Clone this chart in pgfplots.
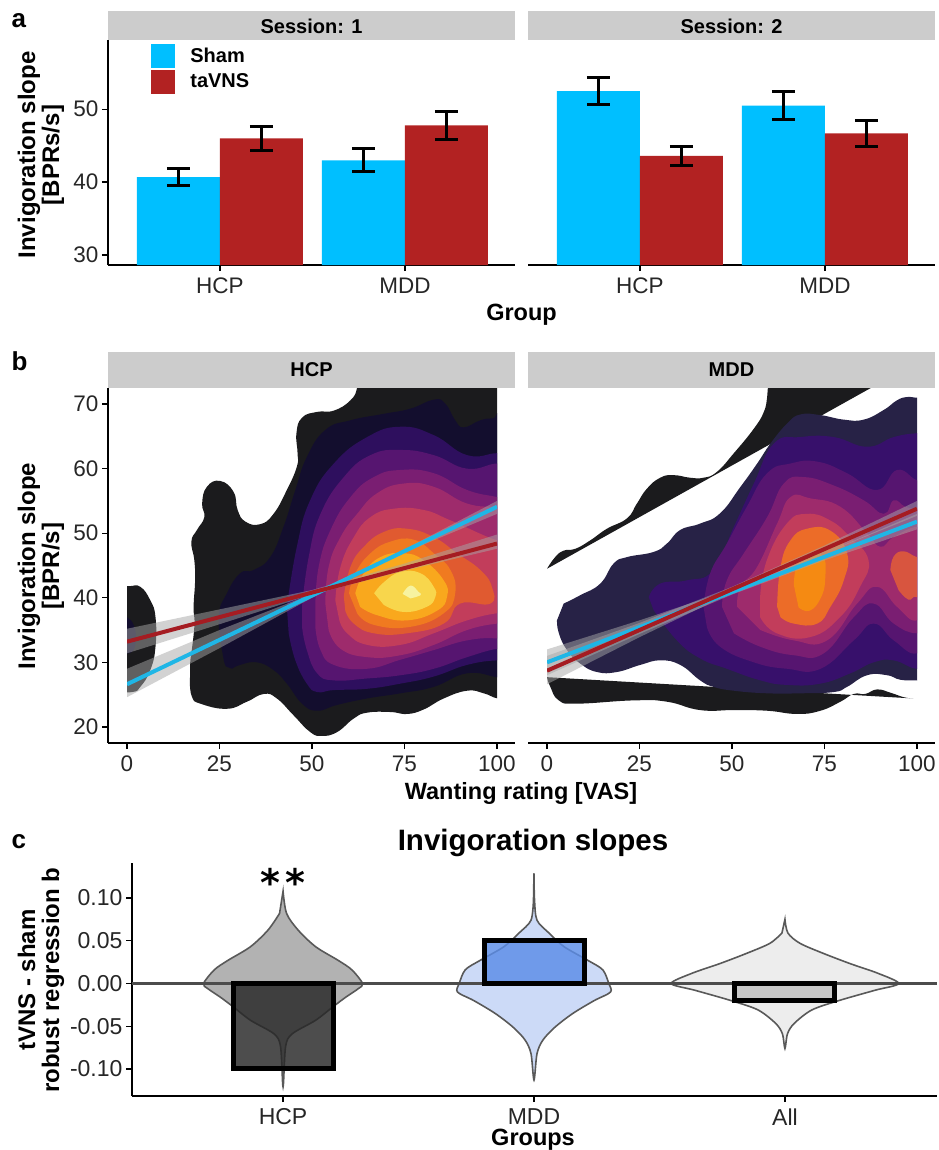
\documentclass[border=0pt]{standalone}
\usepackage{fontspec}
\setmainfont{Liberation Sans}
\newfontfamily\dejavu{DejaVu Sans}
\usepackage{pgfplots}
\pgfplotsset{compat=1.18}
\definecolor{sham}{HTML}{00BFFF}
\definecolor{tavns}{HTML}{B22222}
\definecolor{lnblue}{HTML}{1FB6E6}
\definecolor{lnred}{HTML}{A51C22}
\definecolor{strip}{HTML}{CCCCCC}
\definecolor{k0}{HTML}{1B1B1D}
\definecolor{k1}{HTML}{130E2E}
\definecolor{k2}{HTML}{2E0F5E}
\definecolor{k3}{HTML}{561570}
\definecolor{k4}{HTML}{7A1E72}
\definecolor{k5}{HTML}{9E2B6C}
\definecolor{k6}{HTML}{C23D5B}
\definecolor{k7}{HTML}{E05A30}
\definecolor{k8}{HTML}{F07A20}
\definecolor{k9}{HTML}{F9A81D}
\definecolor{k10}{HTML}{F8D64C}
\definecolor{k11}{HTML}{F7F3A0}
\definecolor{m1}{HTML}{272246}
\definecolor{m2}{HTML}{37106B}
\definecolor{m7}{HTML}{EC6C28}
\definecolor{m8}{HTML}{F58A12}
\definecolor{mi}{HTML}{D8553F}
\definecolor{vmdd}{HTML}{CCDAF7}
\definecolor{bmdd}{HTML}{5B8DE8}
\newcommand{\fs}[1]{\fontsize{#1}{#1}\selectfont}
\pgfplotsset{
  panel/.style={
    scale only axis,
    axis x line=bottom, axis y line=left,
    axis line style={-, line width=2pt, black},
    tick style={black, line width=1.4pt},
    tick align=outside, major tick length=6pt,
    ticklabel style={font=\fs{22.5}, text=black!85},
    xticklabel style={yshift=-3pt},
    scaled ticks=false,
    /pgf/number format/assume math mode=true,
  },
  rightpanel/.style={panel, axis y line=none},
  dens/.style={draw=none, smooth, tension=0.8},
  rib/.style={draw=none, fill=gray!70, fill opacity=0.5},
  fit/.style={line width=4pt},
  violin/.style={smooth, tension=0.5, line width=1.6pt, draw=black!65},
  cbar/.style={ybar, bar shift=0pt, bar width=100pt, draw=black, line width=5pt, fill opacity=0.82},
  gbar/.style={ybar, bar shift=0pt, bar width=83pt, draw=none,
    error bars/.cd, y dir=both, y explicit,
    error bar style={line width=3pt, black},
    error mark options={rotate=90, mark size=11.5pt, line width=3pt, black}},
}
\begin{document}
\begin{tikzpicture}[x=1pt,y=1pt]
\path[use as bounding box] (0,0) rectangle (938,-1150);

% strips
\fill[strip] (108,-11) rectangle (515,-40);
\fill[strip] (528,-11) rectangle (935,-40);
\fill[strip] (108,-352) rectangle (515,-388);
\fill[strip] (528,-352) rectangle (935,-388);
\node[font=\bfseries\fs{20}] at (311.5,-26) {Session: 1};
\node[font=\bfseries\fs{20}] at (731.5,-26) {Session: 2};
\node[font=\bfseries\fs{20}] at (311.5,-370) {HCP};
\node[font=\bfseries\fs{20}] at (731.5,-370) {MDD};
\node[font=\bfseries\fs{26},anchor=base west] at (8,-28) {a};
\node[font=\bfseries\fs{26},anchor=base west] at (8,-370) {b};
\node[font=\bfseries\fs{26},anchor=base west] at (8,-848) {c};

% panel a
\begin{axis}[panel, at={(108pt,-265pt)}, anchor=south west, width=407pt, height=225pt,
  xmin=0.395, xmax=2.595, ymin=28.63, ymax=59.5,
  xtick={1,2}, xticklabels={HCP,MDD}, ytick={30,40,50},
  legend style={at={(0.106,0.985)}, anchor=north west, draw=none, fill=none,
    font=\bfseries\fs{20}, row sep=2pt, inner sep=0pt},
  legend cell align=left,
  legend image code/.code={\fill[#1] (0pt,-12pt) rectangle (24pt,12pt); \path (37pt,0pt);},
  ]
\addplot[fill=sham, gbar]
  coordinates {(0.7757,40.7) +- (0,1.2) (1.7757,43.0) +- (0,1.6)};
\addlegendentry{Sham}
\addplot[fill=tavns, gbar]
  coordinates {(1.2243,46.0) +- (0,1.6) (2.2243,47.8) +- (0,1.9)};
\addlegendentry{taVNS}
\end{axis}
\begin{axis}[rightpanel, at={(528pt,-265pt)}, anchor=south west, width=407pt, height=225pt,
  xmin=0.395, xmax=2.595, ymin=28.63, ymax=59.5,
  xtick={1,2}, xticklabels={HCP,MDD}]
\addplot[fill=sham, gbar]
  coordinates {(0.7757,52.5) +- (0,1.9) (1.7757,50.5) +- (0,1.9)};
\addplot[fill=tavns, gbar]
  coordinates {(1.2243,43.6) +- (0,1.3) (2.2243,46.7) +- (0,1.8)};
\end{axis}
\node[font=\bfseries\fs{23.5}] at (521.5,-315) {Group};
\node[font=\bfseries\fs{24},rotate=90,align=center] at (41,-155) {Invigoration slope\\{}[BPRs/s]};

% panel b frames
\begin{axis}[panel, at={(108pt,-743pt)}, anchor=south west, width=407pt, height=355pt,
  xmin=-5.1, xmax=104.9, ymin=17.5, ymax=72.5,
  xtick={0,25,50,75,100}, ytick={20,30,40,50,60,70}]
\end{axis}
\begin{axis}[rightpanel, at={(528pt,-743pt)}, anchor=south west, width=407pt, height=355pt,
  xmin=-5.1, xmax=104.9, ymin=17.5, ymax=72.5,
  xtick={0,25,50,75,100}]
\end{axis}
\node[font=\bfseries\fs{23.5}] at (521,-793) {Wanting rating [VAS]};
\node[font=\bfseries\fs{24},rotate=90,align=center] at (41,-566) {Invigoration slope\\{}[BPR/s]};

% HCP density, clipped to the 0-100 range
\begin{axis}[hide axis, scale only axis, at={(127pt,-743pt)}, anchor=south west, width=370pt, height=355pt,
  xmin=0, xmax=100, ymin=17.5, ymax=72.5]
\addplot[dens, fill=k0] coordinates {(17,26.7)(17.6,24.6)(19.8,23.6)(27,22.8)(32.4,23.9)(37,25.1)(40.5,24.4)(45,21.8)(49.5,19.2)(52.7,18.6)(56.8,19.2)(61.3,21.3)(64.9,22.2)(71.2,22.3)(75.7,22)(80.2,22.7)(85.6,24.4)(91.9,25.6)(96.4,25.2)(100.2,24.4)(104,24.4)(104,75)(62.2,75)(62.2,72.6)(60.4,70.6)(55.9,69)(51.4,68.8)(47.3,67.9)(45.8,65.5)(46.1,62.4)(45.9,60.3)(43.2,56.7)(39.6,53)(36,51.4)(32,51.8)(29.9,53.6)(28.8,56.4)(25.2,58.1)(21.6,57.2)(20.3,54.6)(20.9,52.5)(18.9,50.5)(17.4,48.7)(18.2,45.8)(18.4,42.7)(18,38.6)(18.2,35.5)(17.1,30.3)} -- cycle;
\addplot[dens, fill=k0] coordinates {(-4,41.8)(0.5,41.8)(3.6,41.7)(6.3,39.6)(7.7,37)(7.7,32.4)(6.3,28.8)(3.6,26.2)(1.4,25.4)(-4,25.4)} -- cycle;
\addplot[dens, fill=k1] coordinates {(-2,37)(0,37)(2,35.5)(2.3,33)(1,31.5)(-2,31.5)} -- cycle;
\addplot[dens, fill=k1] coordinates {(27,29.3)(26,30.8)(24.8,37)(27,40.7)(30.6,43.8)(34.2,44.3)(38.7,46.3)(42.3,51)(45.5,56.7)(48.6,61.8)(53.6,66)(60.4,67.5)(69.4,68.5)(76.6,69.3)(82.9,70.7)(86,70.1)(88.7,67.5)(91,66.4)(95.5,67.5)(99,67.8)(104,67.8)(104,27.5)(100,27.7)(91.9,28.3)(82.9,26.2)(73.9,25.2)(64.9,24.4)(56.8,23.4)(51.4,22.5)(47.3,23.6)(43.2,26.7)(39.6,28.8)(35.1,30)(30.6,29.6)(28.4,29)} -- cycle;
\addplot[dens, fill=k2] coordinates {(43.2,38.6)(45.9,47.9)(49.5,55.1)(55.9,60.8)(64.9,64.9)(73.9,66.5)(82.9,65.2)(91.9,62.1)(100,62.4)(104,62)(104,30)(100,30.3)(91.9,29.6)(82.9,27.8)(73.9,26.7)(64.9,25.9)(55.9,25.7)(51.4,25.4)(48.6,26.7)(45.5,30.3)(43.7,34.5)} -- cycle;
\addplot[dens, fill=k3] coordinates {(47.3,38.6)(49.1,46.3)(52.3,53)(58.6,58.7)(65.8,62.1)(73.9,62.9)(82.9,62.1)(91.9,60)(100,60.8)(104,60)(104,32)(100,32.1)(91.9,30.8)(82.9,29)(73.9,28)(64.9,27.5)(55.9,27.2)(51.4,28.3)(48.6,31.9)(47.3,35.5)} -- cycle;
\addplot[dens, fill=k4] coordinates {(50.9,38.6)(51.8,44.8)(55,50.5)(60.4,55.6)(66.7,58.7)(73.9,59.8)(82.9,59.3)(91.9,56.7)(100,55.6)(104,55)(104,33)(100,33.7)(91.9,33.4)(82.9,31.9)(73.9,30.4)(64.9,29)(55.9,29.6)(52.3,31.9)(50.9,35.5)} -- cycle;
\addplot[dens, fill=k5] coordinates {(53.6,39.1)(54.5,44.8)(57.7,49.4)(62.2,53)(67.6,56.2)(74.8,57.7)(82.9,57.2)(91.9,54.6)(100,54.1)(104,54)(104,36)(100,36)(91.9,35)(82.9,32.7)(73.9,31.1)(64.9,30.8)(57.7,32.1)(54.5,35)} -- cycle;
\addplot[dens, fill=k6] coordinates {(56.3,39.6)(57.7,44.8)(61.3,49.4)(65.8,52.5)(72.1,53.8)(80.2,53.6)(87.4,52)(100,48.9)(104,49)(104,37.5)(100,37.6)(91.9,36.5)(82.9,34.5)(73.9,32.7)(64.9,32.7)(59.5,34.5)(57.4,36.5)} -- cycle;
\addplot[dens, fill=k7] coordinates {(58.6,40.2)(60.4,44.8)(64,47.9)(69.4,50.2)(75.7,50.7)(82.9,49.4)(89.2,46.9)(95.5,44.3)(98.6,41.7)(98.2,39.1)(90,39.1)(85.6,36)(75.7,34.5)(66.7,34.5)(61.3,36)(59,38)} -- cycle;
\addplot[dens, fill=k8] coordinates {(60,40.7)(61.7,43.8)(65.8,46.9)(71.2,48.7)(77.5,49)(82.9,46.9)(87.4,44.3)(88.7,40.7)(85.6,37.6)(76.6,35.5)(66.7,35.8)(62.2,37.6)} -- cycle;
\addplot[dens, fill=k9] coordinates {(61.7,40.7)(64,43.8)(68.5,46.3)(74.8,46.9)(80.2,45.8)(85.6,42.7)(86.5,40.2)(83.8,38)(75.7,36.5)(67.6,37.3)(63,38.6)} -- cycle;
\addplot[dens, fill=k10] coordinates {(66.8,40.7)(69.4,42.4)(73.9,44)(79.3,43.8)(82.9,41.7)(83.3,40.1)(81,38.6)(74.8,37.8)(69.4,38.9)} -- cycle;
\addplot[dens, fill=k11] coordinates {(74.5,40.6)(76.6,41.9)(78.8,40.9)(79.3,40.4)(76.6,39.9)} -- cycle;
% regression ribbons and lines
\addplot[rib] coordinates {(0,29)(25,35)(50,40.6)(60,43.4)(75,47.5)(100,55)(100,53)(75,47)(60,42.9)(50,40)(25,32.2)(0,24.6)} -- cycle;
\addplot[rib] coordinates {(0,35.2)(25,38.2)(50,41.2)(75,45.3)(100,49.8)(100,47.6)(75,44.2)(50,40.5)(25,35.9)(0,31.4)} -- cycle;
\addplot[fit, lnblue] coordinates {(0,26.6)(100,54.1)};
\addplot[fit, lnred] coordinates {(0,33.2)(50,40.8)(100,48.4)};
\end{axis}

% MDD density
\begin{axis}[hide axis, scale only axis, at={(547pt,-743pt)}, anchor=south west, width=370pt, height=355pt,
  xmin=0, xmax=100, ymin=17.5, ymax=72.5]
\addplot[dens, fill=k0] coordinates {(0,44.5)(2.2,46.3)(4.5,47.3)(7.7,47.6)(11.7,48.9)(16.2,50.7)(21.6,52.3)(24.3,54.6)(27,56.9)(30.6,58.6)(34.2,59)(38.7,58.6)(42.3,58.6)(45.9,59.5)(50.5,62.4)(55.9,66.2)(58.6,68.8)(59.5,71.1)(59.7,72.6)(60,75)(70,78)(95,78)(95,74.9)} -- cycle;
\addplot[dens, fill=k0] coordinates {(0,27.7)(0.9,26.2)(3.2,24.1)(8.1,23.6)(23.4,24.1)(32.4,23.9)(41.4,22.6)(50.5,22.6)(59.5,22.5)(67.6,22)(73.9,22.5)(79.3,23.9)(82.9,25.1)(86,25.1)(89.2,25.8)(92.8,25.3)(96.4,24.6)(99,24.4)} -- cycle;
\addplot[dens, fill=m1] coordinates {(2.7,36.5)(3.2,34.5)(5.4,31.9)(9,29.8)(13.5,28.5)(18.9,28.5)(25.2,29.6)(30.6,30.3)(36,29.6)(41.4,27.2)(45,26.2)(50.5,25.6)(59.5,25.2)(68.5,25.2)(77.5,25.4)(81.1,26.2)(86.5,28)(91.9,28)(95.5,27.3)(100,27.2)(104,27.2)(104,71)(100,71)(97.3,71.1)(94.6,70.6)(91,69.1)(85.6,67.6)(80.2,67.6)(73.9,68.3)(68.5,68.4)(64.9,67)(60.4,63.9)(56.8,60.8)(52.3,57.2)(46.8,53.1)(41.4,51.5)(36,50.5)(32.4,48.4)(28.8,47.1)(21.6,46.3)(18,45.3)(14.4,42.2)(9,40.4)(4.5,39.1)} -- cycle;
\addplot[dens, fill=m2] coordinates {(27.5,40.1)(30.6,42.2)(37.8,42.7)(45,44.3)(50.5,51)(55.9,57.7)(61.3,63.9)(68.5,64.9)(77.5,64.9)(86.5,63.4)(93.7,64.9)(100,65.5)(104,65.5)(104,30)(100,29)(93.7,30.3)(88.3,30)(82,28.3)(73.9,26.7)(64.9,26.5)(57.7,27.2)(48.6,29)(41.4,30.6)(35.1,33.4)(28.8,38.1)} -- cycle;
\addplot[dens, fill=k3] coordinates {(42.3,38.6)(44.1,43.8)(48.6,48.4)(54,54.1)(59.5,59.3)(65.8,60.8)(73,61.1)(81.1,59.3)(89.2,56.7)(94.6,59.8)(100,58.2)(104,58)(104,35)(100,31.4)(93.7,33.4)(88.3,36)(82.9,33.4)(73.9,29)(64.9,29)(55.9,30)(46.8,32.4)(43.2,35.5)} -- cycle;
\addplot[dens, fill=k4] coordinates {(47.3,38.6)(48.6,42.7)(53.2,46.9)(59.5,52.5)(64,57.7)(69.4,58.7)(77.5,57.4)(85.6,55.1)(91,53)(93.7,55.1)(96.8,54.1)(100,53.6)(104,53)(104,36)(100,34.5)(93.7,36)(88.3,39.1)(82.9,37)(74.8,31.4)(66.7,31.1)(57.7,32.4)(50.5,34.5)} -- cycle;
\addplot[dens, fill=k5] coordinates {(51.4,38.6)(52.3,41.7)(56.8,44.8)(62.2,51.5)(65.8,55.6)(71.2,55.4)(79.3,54.1)(86.5,50)(90.1,47.9)(93.7,49.4)(100,51)(104,50)(104,40)(100,36.5)(94.6,38.6)(89.2,41.7)(83.8,39.1)(75.7,33.4)(66.7,33.4)(57.7,35)} -- cycle;
\addplot[dens, fill=k6] coordinates {(57.6,40.1)(59.4,45.8)(64.8,51.5)(70.2,53)(76.5,52)(81.9,49.4)(86.9,45.8)(84.6,41.7)(79.2,37)(71.1,33.9)(62.1,34.5)(57.6,37)} -- cycle;
\addplot[dens, fill=mi] coordinates {(92.8,44.3)(93.7,46.4)(96.4,47.2)(100,46.3)(104,46)(104,38)(100,40.1)(97.7,39.7)(95,41.2)} -- cycle;
\addplot[dens, fill=m7] coordinates {(62.2,38.6)(63.1,44.8)(65.8,48.9)(70.3,50.7)(76.6,50.4)(81.1,46.9)(80.2,42.7)(76.6,38.6)(73,36)(66.7,36)(63.1,37)} -- cycle;
\addplot[dens, fill=m8] coordinates {(66.7,42)(67.5,45)(70,46.5)(74.5,46.5)(75.2,43)(74,40)(71,38)(68,38.5)} -- cycle;
\addplot[rib] coordinates {(0,32)(25,36.5)(50,41.3)(75,46.9)(100,53)(100,50.6)(75,45.8)(50,40.5)(25,34.4)(0,28)} -- cycle;
\addplot[rib] coordinates {(0,31)(25,36.1)(50,41.7)(75,48.1)(100,55)(100,52.7)(75,46.9)(50,40.8)(25,33.9)(0,26.6)} -- cycle;
\addplot[fit, lnblue] coordinates {(0,30)(100,51.8)};
\addplot[fit, lnred] coordinates {(0,28.7)(50,41.3)(100,53.8)};
\end{axis}

% panel c
\begin{axis}[panel, at={(132pt,-1096pt)}, anchor=south west, width=805pt, height=233pt,
  xmin=0.398, xmax=3.606, ymin=-0.1317, ymax=0.141,
  xtick={1,2,3}, xticklabels={HCP,MDD,All},
  ytick={-0.1,-0.05,0,0.05,0.1}, yticklabels={-0.10,-0.05,0.00,0.05,0.10},
  ticklabel style={font=\fs{23}},
  ]
\addplot[violin, fill=black!30] coordinates {(1,.108)(1.014,.082)(1.06,.0625)(1.13,.043)(1.22,.027)(1.274,.016)(1.317,0)(1.30,-.006)(1.25,-.016)(1.2,-.027)(1.13,-.043)(1.036,-.059)(1.01,-.074)(1,-.121)(.99,-.074)(.964,-.059)(.87,-.043)(.8,-.027)(.75,-.016)(.70,-.006)(.683,0)(.726,.016)(.78,.027)(.87,.043)(.94,.0625)(.986,.082)} -- cycle;
\addplot[violin, fill=vmdd] coordinates {(2,.129)(2.002,.098)(2.012,.074)(2.06,.059)(2.12,.043)(2.215,.027)(2.274,.016)(2.298,0)(2.305,-.01)(2.24,-.02)(2.155,-.035)(2.084,-.051)(2.036,-.066)(2.012,-.082)(2,-.113)(1.988,-.082)(1.964,-.066)(1.916,-.051)(1.845,-.035)(1.76,-.02)(1.695,-.01)(1.702,0)(1.726,.016)(1.785,.027)(1.88,.043)(1.94,.059)(1.988,.074)(1.998,.098)} -- cycle;
\addplot[violin, fill=black!7] coordinates {(3,.075)(3.012,.059)(3.06,.047)(3.155,.035)(3.262,.023)(3.37,.012)(3.453,0)(3.358,-.008)(3.215,-.02)(3.107,-.031)(3.036,-.047)(3.01,-.059)(3,-.076)(2.99,-.059)(2.964,-.047)(2.893,-.031)(2.785,-.02)(2.642,-.008)(2.547,0)(2.63,.012)(2.738,.023)(2.845,.035)(2.94,.047)(2.988,.059)} -- cycle;
\addplot[black!70, line width=2.2pt] coordinates {(0.398,0)(3.606,0)};
\addplot[fill=black!85, cbar] coordinates {(1,-0.10)};
\addplot[fill=bmdd, cbar] coordinates {(2,0.05)};
\addplot[fill=black!25, cbar] coordinates {(3,-0.02)};
\node[font=\dejavu\bfseries\fs{38},anchor=base] at (axis cs:1,0.102) {*\hspace{5pt}*};
\end{axis}
\node[font=\bfseries\fs{29.5}] at (533,-843) {Invigoration slopes};
\node[font=\bfseries\fs{23.5}] at (533,-1140) {Groups};
\node[font=\bfseries\fs{24},rotate=90,align=center] at (41,-980) {tVNS - sham\\robust regression b};
\end{tikzpicture}
\end{document}
